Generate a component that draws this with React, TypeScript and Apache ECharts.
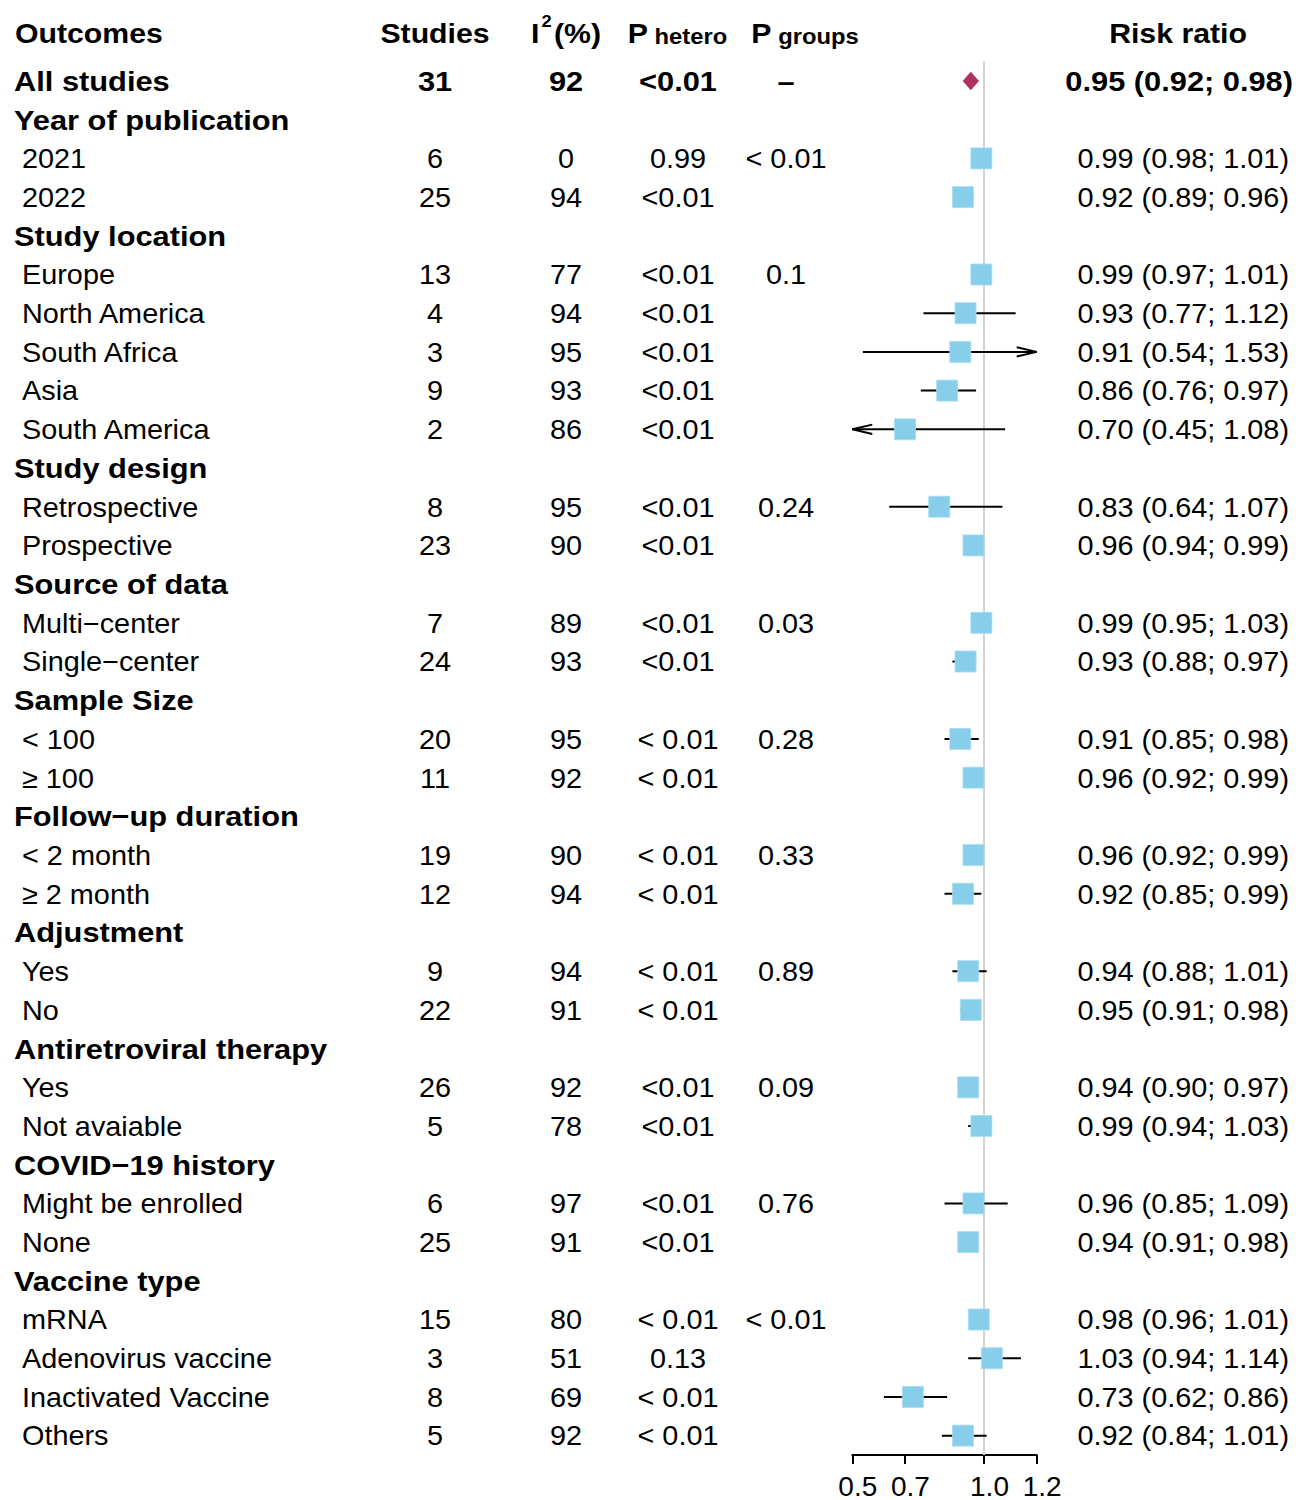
import React, { useEffect, useRef } from "react";
import * as echarts from "echarts";

const rowLabels: string[] = [
  "All studies", "Year of publication", "2021", "2022", "Study location", "Europe", "North America",
  "South Africa", "Asia", "South America", "Study design", "Retrospective", "Prospective",
  "Source of data", "Multi\u2212center", "Single\u2212center", "Sample Size", "< 100", "\u2265 100",
  "Follow\u2212up duration", "< 2 month", "\u2265 2 month", "Adjustment", "Yes", "No",
  "Antiretroviral therapy", "Yes", "Not avaiable", "COVID\u221219 history", "Might be enrolled", "None",
  "Vaccine type", "mRNA", "Adenovirus vaccine", "Inactivated Vaccine", "Others",
];
const rowKind: string[] = [
  "overall", "group", "sub", "sub", "group", "sub", "sub", "sub", "sub", "sub", "group", "sub", "sub",
  "group", "sub", "sub", "group", "sub", "sub", "group", "sub", "sub", "group", "sub", "sub",
  "group", "sub", "sub", "group", "sub", "sub", "group", "sub", "sub", "sub", "sub",
];
const studies: (number | null)[] = [
  31, null, 6, 25, null, 13, 4, 3, 9, 2, null, 8, 23, null, 7, 24, null, 20, 11, null, 19, 12, null, 9, 22,
  null, 26, 5, null, 6, 25, null, 15, 3, 8, 5,
];
const i2: (number | null)[] = [
  92, null, 0, 94, null, 77, 94, 95, 93, 86, null, 95, 90, null, 89, 93, null, 95, 92, null, 90, 94, null, 94, 91,
  null, 92, 78, null, 97, 91, null, 80, 51, 69, 92,
];
const pHetero: string[] = [
  "<0.01", "", "0.99", "<0.01", "", "<0.01", "<0.01", "<0.01", "<0.01", "<0.01", "", "<0.01", "<0.01",
  "", "<0.01", "<0.01", "", "< 0.01", "< 0.01", "", "< 0.01", "< 0.01", "", "< 0.01", "< 0.01",
  "", "<0.01", "<0.01", "", "<0.01", "<0.01", "", "< 0.01", "0.13", "< 0.01", "< 0.01",
];
const pGroups: string[] = [
  "\u2013", "", "< 0.01", "", "", "0.1", "", "", "", "", "", "0.24", "",
  "", "0.03", "", "", "0.28", "", "", "0.33", "", "", "0.89", "",
  "", "0.09", "", "", "0.76", "", "", "< 0.01", "", "", "",
];
const rr: (number | null)[] = [
  0.95, null, 0.99, 0.92, null, 0.99, 0.93, 0.91, 0.86, 0.70, null, 0.83, 0.96, null, 0.99, 0.93,
  null, 0.91, 0.96, null, 0.96, 0.92, null, 0.94, 0.95, null, 0.94, 0.99, null, 0.96, 0.94,
  null, 0.98, 1.03, 0.73, 0.92,
];
const lower: (number | null)[] = [
  0.92, null, 0.98, 0.89, null, 0.97, 0.77, 0.54, 0.76, 0.45, null, 0.64, 0.94, null, 0.95, 0.88,
  null, 0.85, 0.92, null, 0.92, 0.85, null, 0.88, 0.91, null, 0.90, 0.94, null, 0.85, 0.91,
  null, 0.96, 0.94, 0.62, 0.84,
];
const upper: (number | null)[] = [
  0.98, null, 1.01, 0.96, null, 1.01, 1.12, 1.53, 0.97, 1.08, null, 1.07, 0.99, null, 1.03, 0.97,
  null, 0.98, 0.99, null, 0.99, 0.99, null, 1.01, 0.98, null, 0.97, 1.03, null, 1.09, 0.98,
  null, 1.01, 1.14, 0.86, 1.01,
];
const tickValues: number[] = [0.5, 0.7, 1.0, 1.2];
const xMin = 0.5;
const xMax = 1.2;

const FONT = "'Liberation Sans', Arial, Helvetica, sans-serif";
const FS = 28;
const SX_NORMAL = 1.03;
const SX_BOLD = 1.1;
const SX_HEADER = 1.08;

export default function App() {
  const ref = useRef<HTMLDivElement>(null);
  useEffect(() => {
    if (!ref.current) return;
    const chart = echarts.init(ref.current, undefined, { renderer: "svg" });

    const ciData: any[] = [];
    const sqData: any[] = [];
    const dmData: any[] = [];
    const txtData: any[] = [];
    rowLabels.forEach((_, i) => {
      txtData.push([xMin, i]);
      if (rr[i] == null) return;
      if (rowKind[i] === "overall") {
        dmData.push([i, lower[i], rr[i], upper[i]]);
      } else {
        ciData.push([i, lower[i], upper[i]]);
        sqData.push([rr[i], i]);
      }
    });

    const txt = (text: string, x: number, y: number, align: string, bold: boolean, sx?: number) => ({
      type: "text",
      x, y,
      scaleX: sx != null ? sx : bold ? SX_BOLD : SX_NORMAL,
      style: {
        text, x: 0, y: 0, align, verticalAlign: "middle",
        fontSize: FS, fontFamily: FONT, fontWeight: bold ? "bold" : "normal", fill: "#000",
      },
    });

    const headerY = 33;
    const bigTok = { fontSize: FS, fontFamily: FONT, fontWeight: "bold", color: "#000", verticalAlign: "bottom", lineHeight: 28 };
    const subTok = { fontSize: 22, fontFamily: FONT, fontWeight: "bold", color: "#000", verticalAlign: "bottom", lineHeight: 22 };

    const option: any = {
      animation: false,
      grid: { left: 852.3, width: 184.4, top: 61.6, height: 1393.7 },
      xAxis: {
        type: "value", min: xMin, max: xMax,
        axisLine: { show: true, lineStyle: { color: "#000", width: 2 } },
        axisTick: { show: true, customValues: tickValues, length: 9, lineStyle: { color: "#000", width: 2 } },
        axisLabel: {
          show: true, customValues: tickValues, margin: 17,
          padding: [0, 0, 0, 11],
          formatter: (v: number) => v.toFixed(1),
          fontSize: FS, fontFamily: FONT, color: "#000",
        },
        splitLine: { show: false },
      },
      yAxis: { type: "category", data: rowLabels, inverse: true, show: false },
      graphic: [
        txt("Outcomes", 15, headerY, "left", true, SX_HEADER),
        txt("Studies", 435, headerY, "center", true, SX_HEADER),
        {
          type: "text", x: 566, y: headerY - 3, scaleX: SX_HEADER,
          style: {
            text: "{a|I}{b|2}{a|(%)}", x: 0, y: 0, align: "center", verticalAlign: "middle",
            rich: {
              a: bigTok,
              b: { fontSize: 17, fontFamily: FONT, fontWeight: "bold", color: "#000", verticalAlign: "top", lineHeight: 34, padding: [0, 2, 0, 2] },
            },
          },
        },
        {
          type: "text", x: 677.5, y: headerY, scaleX: SX_HEADER,
          style: {
            text: "{a|P}{b| hetero}", x: 0, y: 0, align: "center", verticalAlign: "middle",
            rich: { a: bigTok, b: subTok },
          },
        },
        {
          type: "text", x: 805, y: headerY, scaleX: SX_HEADER,
          style: {
            text: "{a|P}{b| groups}", x: 0, y: 0, align: "center", verticalAlign: "middle",
            rich: { a: bigTok, b: subTok },
          },
        },
        txt("Risk ratio", 1178, headerY, "center", true, SX_HEADER),
      ],
      series: [
        {
          type: "custom", name: "ref", z: 1, silent: true,
          data: [[1, 0]],
          renderItem: (params: any, api: any) => {
            const cs = params.coordSys;
            const x = api.coord([1, 0])[0];
            return {
              type: "line",
              shape: { x1: x, y1: cs.y, x2: x, y2: cs.y + cs.height },
              style: { stroke: "#D3D3D3", lineWidth: 2 },
            };
          },
        },
        {
          type: "custom", name: "ci", z: 2, silent: true,
          encode: { x: [1, 2], y: 0 },
          data: ciData,
          renderItem: (params: any, api: any) => {
            const idx = api.value(0);
            const lo = api.value(1);
            const hi = api.value(2);
            const y = api.coord([xMin, idx])[1];
            const x1 = api.coord([Math.max(lo, xMin), idx])[0];
            const x2 = api.coord([Math.min(hi, xMax), idx])[0];
            const st = { stroke: "#000", lineWidth: 2, fill: null };
            const children: any[] = [
              { type: "line", shape: { x1, y1: y, x2, y2: y }, style: st },
            ];
            if (hi > xMax) {
              children.push({ type: "polyline", shape: { points: [[x2 - 20, y - 4.7], [x2, y], [x2 - 20, y + 4.7]] }, style: st });
            }
            if (lo < xMin) {
              children.push({ type: "polyline", shape: { points: [[x1 + 20, y - 4.7], [x1, y], [x1 + 20, y + 4.7]] }, style: st });
            }
            return { type: "group", children };
          },
        },
        {
          type: "scatter", name: "rr", z: 3, silent: true,
          symbol: "rect", symbolSize: 21,
          itemStyle: { color: "#87CEEB", borderColor: "#A8DCF0", borderWidth: 0.8, opacity: 1 },
          data: sqData,
        },
        {
          type: "custom", name: "overall", z: 3, silent: true,
          encode: { x: [1, 2, 3], y: 0 },
          data: dmData,
          renderItem: (params: any, api: any) => {
            const idx = api.value(0);
            const y = api.coord([xMin, idx])[1];
            const xl = api.coord([api.value(1), idx])[0];
            const xe = api.coord([api.value(2), idx])[0];
            const xh = api.coord([api.value(3), idx])[0];
            return {
              type: "polygon",
              shape: { points: [[xl, y], [xe, y - 9], [xh, y], [xe, y + 9]] },
              style: { fill: "#B03060", stroke: "#B03060", lineWidth: 0.5 },
            };
          },
        },
        {
          type: "custom", name: "table", z: 4, silent: true, clip: false,
          data: txtData,
          renderItem: (params: any, api: any) => {
            const i = params.dataIndex;
            const y = api.coord([xMin, i])[1];
            const kind = rowKind[i];
            const bold = kind !== "sub";
            const children: any[] = [];
            children.push(txt(rowLabels[i], kind === "sub" ? 22 : 14, y, "left", bold));
            if (studies[i] != null) children.push(txt(String(studies[i]), 435, y, "center", bold));
            if (i2[i] != null) children.push(txt(String(i2[i]), 566, y, "center", bold));
            if (pHetero[i]) children.push(txt(pHetero[i], 678, y, "center", bold));
            if (pGroups[i]) children.push(txt(pGroups[i], 786, y, "center", bold));
            if (rr[i] != null) {
              const s = `${(rr[i] as number).toFixed(2)} (${(lower[i] as number).toFixed(2)}; ${(upper[i] as number).toFixed(2)})`;
              children.push(txt(s, bold ? 1293 : 1289, y, "right", bold));
            }
            return { type: "group", children };
          },
        },
      ],
    };
    chart.setOption(option);
    return () => chart.dispose();
  }, []);
  return (
    <div
      ref={ref}
      style={{ position: "absolute", left: 0, top: 0, width: 1302, height: 1500, background: "#fff" }}
    />
  );
}
